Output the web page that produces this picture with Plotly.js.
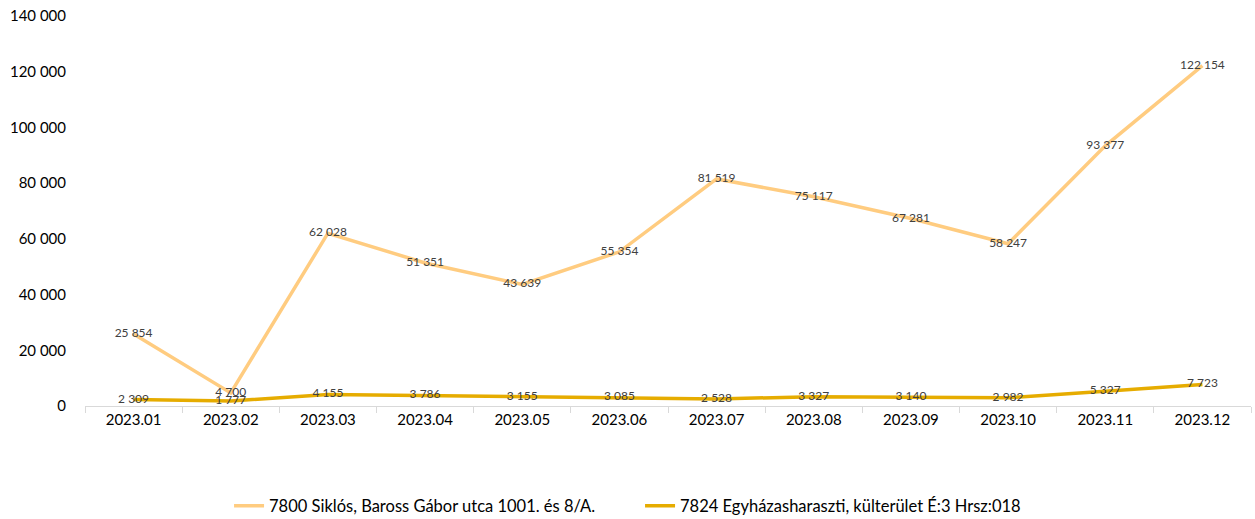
<!DOCTYPE html>
<html><head><meta charset="utf-8">
<script src="https://cdn.plot.ly/plotly-3.0.1.min.js"></script>
<style>body{margin:0;background:#fff}#c{width:1255px;height:519px}</style>
</head><body><div id="c"></div>
<script>
const months = ["2023.01","2023.02","2023.03","2023.04","2023.05","2023.06","2023.07","2023.08","2023.09","2023.10","2023.11","2023.12"];
const siklosName = "7800 Siklós, Baross Gábor utca 1001. és 8/A.";
const siklos = [25854,4700,62028,51351,43639,55354,81519,75117,67281,58247,93377,122154];
const egyhName = "7824 Egyházasharaszti, külterület É:3 Hrsz:018";
const egyh = [2309,1777,4155,3786,3155,3085,2528,3327,3140,2982,5327,7723];
const yTicks = [0,20000,40000,60000,80000,100000,120000,140000];

const fontFam = "Lato, 'Open Sans', sans-serif";
const fmt = v => v.toLocaleString('en-US').replace(/,/g,' ');
function tr(name, y, color){
  return {type:'scatter', mode:'lines+text', name:name, x:months, y:y,
    line:{color:color, width:3.5},
    text:y.map(fmt),
    textposition:'middle center',
    textfont:{family:fontFam, size:12, color:'#404040'},
    cliponaxis:false, hoverinfo:'x+y'};
}
const data = [tr(siklosName, siklos, '#FFCC80'), tr(egyhName, egyh, '#E6AC00')];
const layout = {
  width:1255, height:519,
  margin:{l:85, r:4, t:16, b:113, autoexpand:false},
  paper_bgcolor:'#fff', plot_bgcolor:'#fff',
  separators:', ',
  font:{family:fontFam, size:15, color:'#000'},
  showlegend:true,
  legend:{orientation:'h', xref:'container', x:0.51, xanchor:'center', yref:'container', y:0.025, yanchor:'middle',
    font:{family:fontFam, size:16.5, color:'#000'}, itemwidth:30, entrywidth:366, traceorder:'normal'},
  xaxis:{type:'category', automargin:false, showgrid:false, showline:true, linecolor:'#d9d9d9', linewidth:1,
    ticks:'outside', tickson:'boundaries', ticklen:6, tickcolor:'#d9d9d9',
    tickfont:{family:fontFam, size:15, color:'#000'}, zeroline:false, range:[-0.5,11.5]},
  yaxis:{automargin:false, range:[0,140000], tickvals:yTicks, ticktext:yTicks.map(fmt),
    showgrid:false, zeroline:false, showline:false, ticks:'', ticklabelstandoff:18,
    tickfont:{family:fontFam, size:15, color:'#000'}}
};
Plotly.newPlot('c', data, layout, {displayModeBar:false, staticPlot:true});
</script></body></html>
